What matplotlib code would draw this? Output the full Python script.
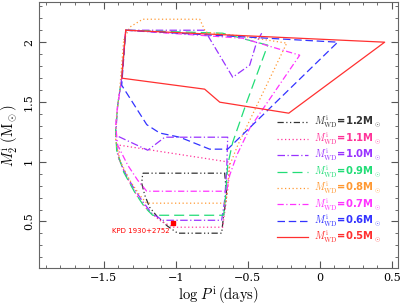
import matplotlib
matplotlib.use('Agg')
import matplotlib.pyplot as plt
from matplotlib.ticker import MultipleLocator

# Contours in the (log P_i, M2_i) plane for each WD mass
wd05_x = [-1.347, 0.451, -0.215, -0.694, -0.799, -1.375, -1.347]
wd05_y = [2.10, 2.00, 1.406, 1.498, 1.607, 1.699, 2.10]

wd06_x = [-1.347, 0.125, -0.639, -0.764, -0.972, -1.111, -1.201, -1.375, -1.347]
wd06_y = [2.10, 2.00, 1.105, 1.105, 1.205, 1.24, 1.31, 1.64, 2.10]

wd07_x = [-1.347, -0.535, -0.139, -0.486, -0.576, -0.625, -0.646, -1.201, -1.264,
          -1.333, -1.403, -1.417, -1.403, -1.375, -1.347]
wd07_y = [2.10, 2.033, 1.891, 1.280, 1.054, 0.887, 0.753, 0.753, 0.845,
          0.971, 1.138, 1.305, 1.473, 1.682, 2.10]

wd08_x = [-1.361, -1.319, -1.229, -0.833, -0.792, -0.535, -0.229, -0.569, -0.625,
          -0.639, -0.653, -1.201, -1.25, -1.319, -1.389, -1.417, -1.41, -1.389, -1.361]
wd08_y = [2.017, 2.126, 2.192, 2.192, 2.084, 2.05, 1.992, 1.138, 0.971,
          0.762, 0.653, 0.653, 0.72, 0.845, 1.013, 1.18, 1.389, 1.598, 2.017]

wd09_x = [-1.347, -0.674, -0.361, -0.507, -0.604, -0.639, -0.653, -0.667, -1.160,
          -1.215, -1.285, -1.361, -1.410, -1.417, -1.403, -1.375, -1.347]
wd09_y = [2.10, 2.075, 1.975, 1.498, 1.163, 0.971, 0.72, 0.552, 0.552,
          0.619, 0.745, 0.912, 1.096, 1.264, 1.473, 1.699, 2.10]

wd10_x = [-0.403, -0.438, -0.486, -0.604, -0.799, -1.347, -1.375, -1.403, -1.417,
          -1.403, -1.361, -1.299, -1.236, -1.167, -1.090, -0.681, -0.660, -0.646,
          -0.639, -1.076, -1.194, -1.417]
wd10_y = [2.075, 2.0, 1.808, 1.707, 2.10, 2.10, 1.699, 1.473, 1.222,
          1.054, 0.929, 0.795, 0.678, 0.569, 0.510, 0.510, 0.678, 0.929,
          1.205, 1.205, 1.096, 1.222]

wd11_x = [-1.389, -0.625, -0.639, -0.653, -0.674, -1.021, -1.111, -1.194, -1.271,
          -1.347, -1.396, -1.389]
wd11_y = [1.138, 0.996, 0.803, 0.636, 0.452, 0.452, 0.510, 0.594, 0.720,
          0.887, 1.029, 1.138]

wd12_x = [-1.229, -0.660, -0.646, -0.667, -0.681, -0.986, -1.056, -1.125, -1.181,
          -1.215, -1.236, -1.229]
wd12_y = [0.904, 0.904, 0.720, 0.552, 0.402, 0.402, 0.460, 0.536, 0.619,
          0.720, 0.820, 0.904]

# observed system
kpd_logp = -1.02
kpd_m2 = 0.485
kpd_err = 0.018

series = [
    ('1.2', wd12_x, wd12_y, '#333333', (0, (5, 2, 1, 2, 1, 2))),
    ('1.1', wd11_x, wd11_y, '#ff3399', (0, (1, 2))),
    ('1.0', wd10_x, wd10_y, '#9933ff', (0, (6, 2, 1, 2))),
    ('0.9', wd09_x, wd09_y, '#22dd77', (0, (8, 4))),
    ('0.8', wd08_x, wd08_y, '#ff9933', (0, (1, 2))),
    ('0.7', wd07_x, wd07_y, '#ff33ff', (0, (5, 2, 1, 2))),
    ('0.6', wd06_x, wd06_y, '#3333ff', (0, (6, 3))),
    ('0.5', wd05_x, wd05_y, '#ff3030', '-'),
]

plt.rcParams['mathtext.fontset'] = 'cm'
plt.rcParams['font.family'] = 'DejaVu Serif'

fig = plt.figure(figsize=(4.01, 3.05), dpi=100)
ax = fig.add_axes([0.097, 0.121, 0.896, 0.872])

handles = []
for mwd, xs, ys, col, ls in series:
    h, = ax.plot(xs, ys, color=col, ls=ls, lw=0.9,
                 label=r'$M^{\rm i}_{\rm WD}$=' + mwd + r'M$_\odot$')
    handles.append(h)

ax.errorbar([kpd_logp], [kpd_m2], yerr=[kpd_err], fmt='s', color='red',
            ms=3, capsize=1.5, elinewidth=0.7, capthick=0.7)
ax.text(kpd_logp - 0.025, kpd_m2 - 0.065, 'KPD 1930+2752', color='red',
        fontsize=5, family='DejaVu Sans', ha='right', va='center')

ax.set_xlim(-1.95, 0.545)
ax.set_ylim(0.11, 2.335)
ax.xaxis.set_major_locator(MultipleLocator(0.5))
ax.xaxis.set_minor_locator(MultipleLocator(0.1))
ax.yaxis.set_major_locator(MultipleLocator(0.5))
ax.yaxis.set_minor_locator(MultipleLocator(0.1))
ax.xaxis.set_major_formatter(plt.FuncFormatter(lambda v, p: ('%g' % v).replace('-', '\u2212')))
ax.yaxis.set_major_formatter(plt.FuncFormatter(lambda v, p: '%g' % v))
ax.tick_params(which='both', direction='in', top=True, right=True,
               labelsize=8, color='#555555')
ax.tick_params(which='major', length=5)
ax.tick_params(which='minor', length=2.5)
for lab in ax.get_yticklabels():
    lab.set_rotation(90)
    lab.set_va('center')
for s in ax.spines.values():
    s.set_color('#666666')

ax.set_xlabel(r'$\log\,P^{\rm i}\,{\rm (days)}$', fontsize=10.5, labelpad=1)
ax.set_ylabel(r'$M_2^{\rm i}\ (\rm M_\odot)$', fontsize=10.5, labelpad=2)

leg = ax.legend(handles=handles, loc='upper left', bbox_to_anchor=(0.663, 0.58),
                frameon=False, handlelength=3.1, handletextpad=0.55,
                labelspacing=0.0, borderpad=0, borderaxespad=0,
                labelcolor='linecolor', prop={'family': 'DejaVu Sans', 'weight': 'bold', 'size': 7.2})

fig.savefig('out.png', dpi=100)
